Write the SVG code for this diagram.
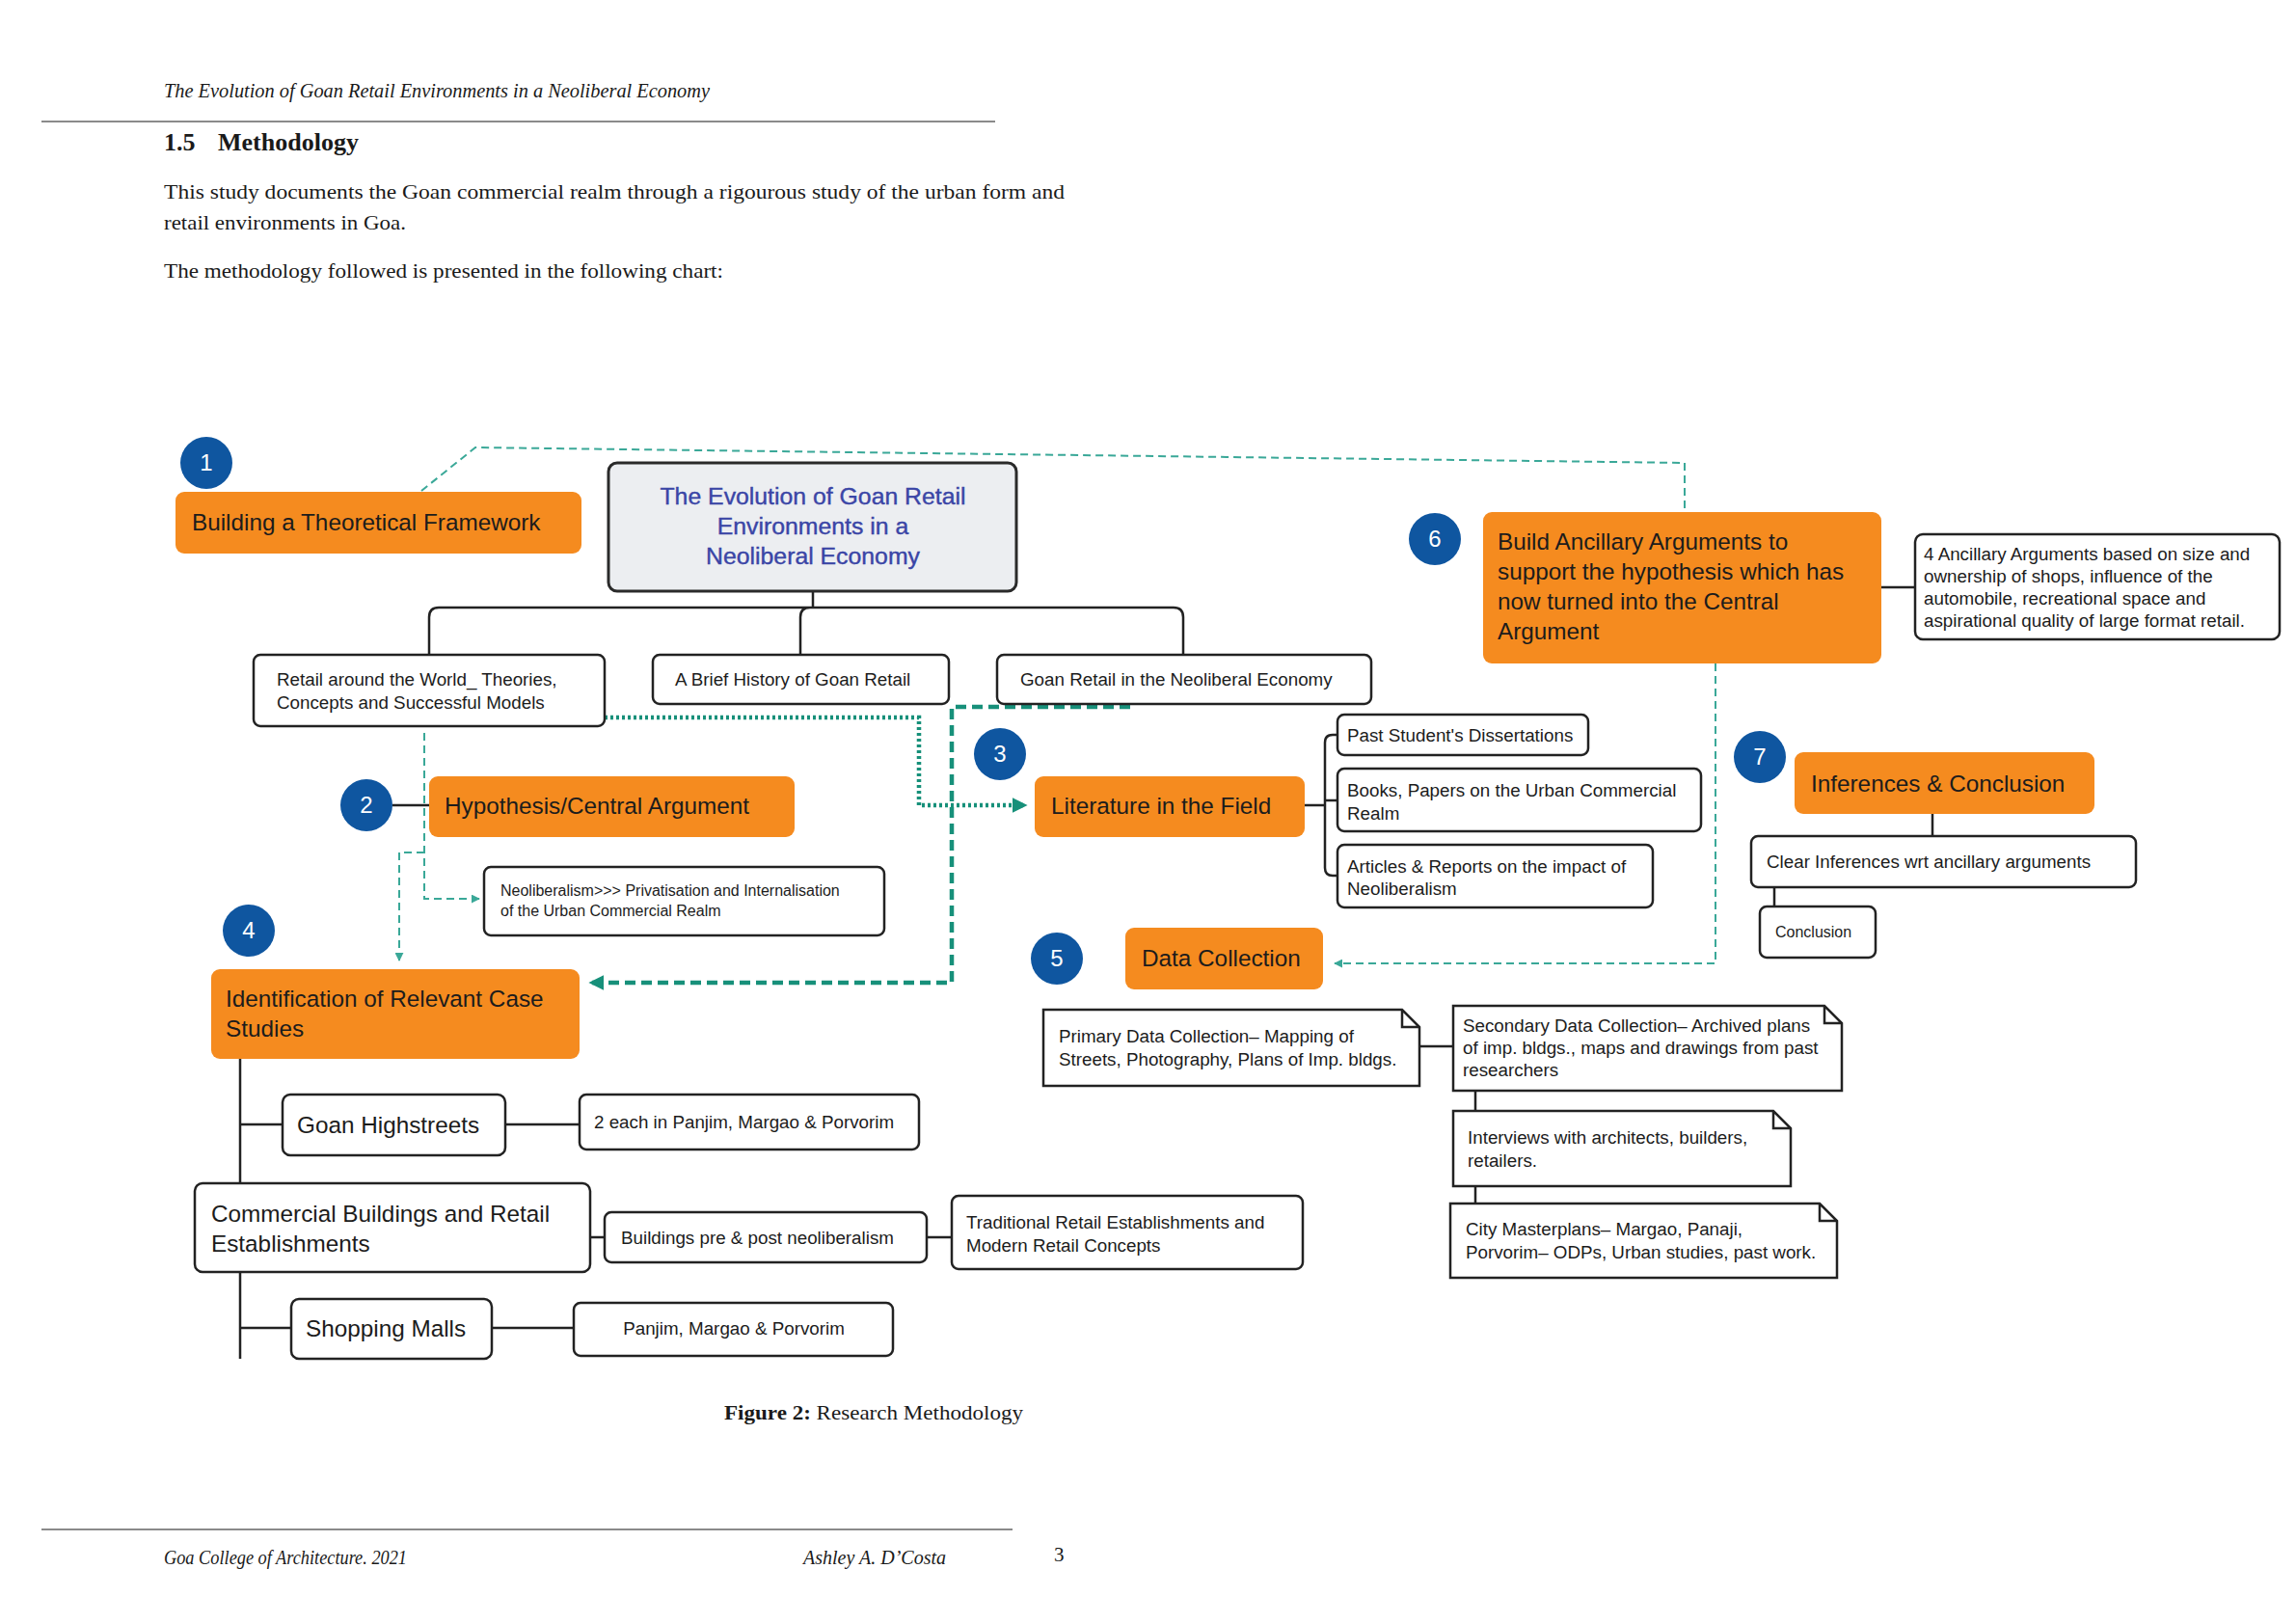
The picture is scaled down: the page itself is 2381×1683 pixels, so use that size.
<svg xmlns="http://www.w3.org/2000/svg" width="2381" height="1683" viewBox="0 0 2381 1683">
<style>
.serif{font-family:"Liberation Serif","Times New Roman",serif;fill:#1a1a1a}
.ob{fill:#F58B1F}
.wb{fill:#fff;stroke:#222;stroke-width:2.5}
.cb{fill:#ECEEF1;stroke:#2a2a2a;stroke-width:3}
.t23{font-family:"Liberation Sans",Arial,sans-serif;font-size:24.3px;fill:#1c1c1c}
.t17{font-family:"Liberation Sans",Arial,sans-serif;font-size:18.8px;fill:#1c1c1c}
.t14{font-family:"Liberation Sans",Arial,sans-serif;font-size:16px;fill:#1c1c1c}
.tc{font-family:"Liberation Sans",Arial,sans-serif;font-size:24.8px;fill:#3A45A6;text-anchor:middle;stroke:#3A45A6;stroke-width:0.4}
.circ{fill:#0F56A0}
.cn{font-family:"Liberation Sans",Arial,sans-serif;font-size:24px;fill:#fff;text-anchor:middle}
.conn{fill:none;stroke:#222;stroke-width:2.5}
.dthin{fill:none;stroke:#3AA898;stroke-width:2;stroke-dasharray:8 5}
.dthick{fill:none;stroke:#17907A;stroke-width:4.5;stroke-dasharray:11 6}
.dot{fill:none;stroke:#17907A;stroke-width:4.5;stroke-dasharray:3 3}
</style>
<defs>
<marker id="ahs" viewBox="0 0 10 10" refX="9" refY="5" markerWidth="9" markerHeight="9" orient="auto" markerUnits="userSpaceOnUse">
<path d="M0,0 L10,5 L0,10 z" fill="#3AA898"/>
</marker>
<marker id="ahb" viewBox="0 0 10 10" refX="9" refY="5" markerWidth="16" markerHeight="16" orient="auto" markerUnits="userSpaceOnUse">
<path d="M0,0 L10,5 L0,10 z" fill="#17907A"/>
</marker>
</defs>
<rect width="2381" height="1683" fill="#fff"/>

<!-- page text -->
<g id="page">
<text class="serif" x="170" y="101" font-size="22" font-style="italic" textLength="566" lengthAdjust="spacingAndGlyphs">The Evolution of Goan Retail Environments in a Neoliberal Economy</text>
<line x1="43" y1="126" x2="1032" y2="126" stroke="#8a8a8a" stroke-width="2"/>
<text class="serif" x="170" y="156" font-size="26" font-weight="bold">1.5<tspan x="226">Methodology</tspan></text>
<text class="serif" x="170" y="206" font-size="22" textLength="934" lengthAdjust="spacingAndGlyphs">This study documents the Goan commercial realm through a rigourous study of the urban form and</text>
<text class="serif" x="170" y="238" font-size="22" textLength="251" lengthAdjust="spacingAndGlyphs">retail environments in Goa.</text>
<text class="serif" x="170" y="288" font-size="22" textLength="580" lengthAdjust="spacingAndGlyphs">The methodology followed is presented in the following chart:</text>
<text class="serif" x="751" y="1472" font-size="22" textLength="310" lengthAdjust="spacingAndGlyphs"><tspan font-weight="bold">Figure 2:</tspan> Research Methodology</text>
<line x1="43" y1="1586" x2="1050" y2="1586" stroke="#8a8a8a" stroke-width="2"/>
<text class="serif" x="170" y="1622" font-size="20" font-style="italic" textLength="252" lengthAdjust="spacingAndGlyphs">Goa College of Architecture. 2021</text>
<text class="serif" x="833" y="1622" font-size="20" font-style="italic" textLength="148" lengthAdjust="spacingAndGlyphs">Ashley A. D’Costa</text>
<text class="serif" x="1093" y="1619" font-size="21">3</text>
</g>

<!-- connectors -->
<g id="connectors">
<path class="conn" d="M843,613 V630 M445,679 V640 Q445,630 455,630 H1217 Q1227,630 1227,640 V679 M830,679 V640 Q830,630 840,630"/>
<line class="conn" x1="407" y1="835" x2="445" y2="835"/>
<path class="conn" d="M1353,835 H1374 M1387,762 H1382 Q1374,762 1374,770 V900 Q1374,908 1382,908 H1387 M1374,830 H1387"/>
<path class="conn" d="M249,1098 V1409 M249,1166 H293 M524,1166 H601 M612,1283 H627 M961,1283 H987 M249,1377 H302 M510,1377 H595"/>
<path class="conn" d="M1472,1085 H1507 M1530,1131 V1152 M1530,1230 V1248"/>
<path class="conn" d="M1951,609 H1986 M2004,844 V867 M1840,920 V940"/>
<path class="dthin" d="M437,509 L493,464 L1747,480 V531"/>
<path class="dthin" d="M1779,688 V999 H1384" marker-end="url(#ahs)"/>
<path class="dthin" d="M440,760 V932 H497" marker-end="url(#ahs)"/>
<path class="dthin" d="M440,884 H414 V996" marker-end="url(#ahs)"/>
<path class="dot" d="M627,744 H953 V835 H1064" marker-end="url(#ahb)"/>
<path class="dthick" d="M1172,733 H987 V1019 H612" marker-end="url(#ahb)"/>
</g>

<!-- nodes -->
<g id="n1">
<circle class="circ" cx="214" cy="480" r="27"/><text class="cn" x="214" y="488">1</text>
<rect class="ob" x="182" y="510" width="421" height="64" rx="9"/>
<text class="t23" x="199" y="550">Building a Theoretical Framework</text>
</g>
<g id="central">
<rect class="cb" x="631" y="480" width="423" height="133" rx="9"/>
<text class="tc" x="843" y="523">The Evolution of Goan Retail</text>
<text class="tc" x="843" y="554">Environments in a</text>
<text class="tc" x="843" y="585">Neoliberal Economy</text>
</g>
<g id="retail-world">
<rect class="wb" x="263" y="679" width="364" height="74" rx="7"/>
<text class="t17" x="287" y="711">Retail around the World_ Theories,</text>
<text class="t17" x="287" y="735">Concepts and Successful Models</text>
</g>
<g id="brief-history">
<rect class="wb" x="677" y="679" width="307" height="51" rx="7"/>
<text class="t17" x="700" y="711">A Brief History of Goan Retail</text>
</g>
<g id="goan-neolib">
<rect class="wb" x="1034" y="679" width="388" height="51" rx="7"/>
<text class="t17" x="1058" y="711">Goan Retail in the Neoliberal Economy</text>
</g>
<g id="n2">
<circle class="circ" cx="380" cy="835" r="27"/><text class="cn" x="380" y="843">2</text>
<rect class="ob" x="445" y="805" width="379" height="63" rx="9"/>
<text class="t23" x="461" y="844">Hypothesis/Central Argument</text>
</g>
<g id="neolib">
<rect class="wb" x="502" y="899" width="415" height="71" rx="7"/>
<text class="t14" x="519" y="929">Neoliberalism&gt;&gt;&gt; Privatisation and Internalisation</text>
<text class="t14" x="519" y="950">of the Urban Commercial Realm</text>
</g>
<g id="n3">
<circle class="circ" cx="1037" cy="782" r="27"/><text class="cn" x="1037" y="790">3</text>
<rect class="ob" x="1073" y="805" width="280" height="63" rx="9"/>
<text class="t23" x="1090" y="844">Literature in the Field</text>
</g>
<g id="dissertations">
<rect class="wb" x="1387" y="741" width="260" height="42" rx="7"/>
<text class="t17" x="1397" y="769">Past Student's Dissertations</text>
</g>
<g id="books">
<rect class="wb" x="1387" y="797" width="377" height="65" rx="7"/>
<text class="t17" x="1397" y="826">Books, Papers on the Urban Commercial</text>
<text class="t17" x="1397" y="850">Realm</text>
</g>
<g id="articles">
<rect class="wb" x="1387" y="876" width="327" height="65" rx="7"/>
<text class="t17" x="1397" y="905">Articles &amp; Reports on the impact of</text>
<text class="t17" x="1397" y="928">Neoliberalism</text>
</g>
<g id="n4">
<circle class="circ" cx="258" cy="965" r="27"/><text class="cn" x="258" y="973">4</text>
<rect class="ob" x="219" y="1005" width="382" height="93" rx="9"/>
<text class="t23" x="234" y="1044">Identification of Relevant Case</text>
<text class="t23" x="234" y="1075">Studies</text>
</g>
<g id="highstreets">
<rect class="wb" x="293" y="1135" width="231" height="63" rx="8"/>
<text class="t23" x="308" y="1175">Goan Highstreets</text>
</g>
<g id="two-each">
<rect class="wb" x="601" y="1135" width="352" height="57" rx="7"/>
<text class="t17" x="616" y="1170">2 each in Panjim, Margao &amp; Porvorim</text>
</g>
<g id="commercial">
<rect class="wb" x="202" y="1227" width="410" height="92" rx="8"/>
<text class="t23" x="219" y="1267">Commercial Buildings and Retail</text>
<text class="t23" x="219" y="1298">Establishments</text>
</g>
<g id="pre-post">
<rect class="wb" x="627" y="1257" width="334" height="52" rx="7"/>
<text class="t17" x="644" y="1290">Buildings pre &amp; post neoliberalism</text>
</g>
<g id="traditional">
<rect class="wb" x="987" y="1240" width="364" height="76" rx="7"/>
<text class="t17" x="1002" y="1274">Traditional Retail Establishments and</text>
<text class="t17" x="1002" y="1298">Modern Retail Concepts</text>
</g>
<g id="malls">
<rect class="wb" x="302" y="1347" width="208" height="62" rx="8"/>
<text class="t23" x="317" y="1386">Shopping Malls</text>
</g>
<g id="panjim">
<rect class="wb" x="595" y="1351" width="331" height="55" rx="7"/>
<text class="t17" x="761" y="1384" text-anchor="middle">Panjim, Margao &amp; Porvorim</text>
</g>
<g id="n5">
<circle class="circ" cx="1096" cy="994" r="27"/><text class="cn" x="1096" y="1002">5</text>
<rect class="ob" x="1167" y="962" width="205" height="64" rx="9"/>
<text class="t23" x="1184" y="1002">Data Collection</text>
</g>
<g id="primary">
<path class="wb" d="M1082,1047 H1454 L1472,1065 V1126 H1082 Z M1454,1047 V1065 H1472"/>
<text class="t17" x="1098" y="1081">Primary Data Collection– Mapping of</text>
<text class="t17" x="1098" y="1105">Streets, Photography, Plans of Imp. bldgs.</text>
</g>
<g id="secondary">
<path class="wb" d="M1507,1043 H1892 L1910,1061 V1131 H1507 Z M1892,1043 V1061 H1910"/>
<text class="t17" x="1517" y="1070">Secondary Data Collection– Archived plans</text>
<text class="t17" x="1517" y="1093">of imp. bldgs., maps and drawings from past</text>
<text class="t17" x="1517" y="1116">researchers</text>
</g>
<g id="interviews">
<path class="wb" d="M1507,1152 H1839 L1857,1170 V1230 H1507 Z M1839,1152 V1170 H1857"/>
<text class="t17" x="1522" y="1186">Interviews with architects, builders,</text>
<text class="t17" x="1522" y="1210">retailers.</text>
</g>
<g id="masterplans">
<path class="wb" d="M1504,1248 H1887 L1905,1266 V1325 H1504 Z M1887,1248 V1266 H1905"/>
<text class="t17" x="1520" y="1281">City Masterplans– Margao, Panaji,</text>
<text class="t17" x="1520" y="1305">Porvorim– ODPs, Urban studies, past work.</text>
</g>
<g id="n6">
<circle class="circ" cx="1488" cy="559" r="27"/><text class="cn" x="1488" y="567">6</text>
<rect class="ob" x="1538" y="531" width="413" height="157" rx="9"/>
<text class="t23" x="1553" y="570">Build Ancillary Arguments to</text>
<text class="t23" x="1553" y="601">support the hypothesis which has</text>
<text class="t23" x="1553" y="632">now turned into the Central</text>
<text class="t23" x="1553" y="663">Argument</text>
</g>
<g id="ancillary">
<rect class="wb" x="1986" y="554" width="378" height="109" rx="8"/>
<text class="t17" x="1995" y="581">4 Ancillary Arguments based on size and</text>
<text class="t17" x="1995" y="604">ownership of shops, influence of the</text>
<text class="t17" x="1995" y="627">automobile, recreational space and</text>
<text class="t17" x="1995" y="650">aspirational quality of large format retail.</text>
</g>
<g id="n7">
<circle class="circ" cx="1825" cy="785" r="27"/><text class="cn" x="1825" y="793">7</text>
<rect class="ob" x="1861" y="780" width="311" height="64" rx="9"/>
<text class="t23" x="1878" y="821">Inferences &amp; Conclusion</text>
</g>
<g id="clear">
<rect class="wb" x="1816" y="867" width="399" height="53" rx="7"/>
<text class="t17" x="1832" y="900">Clear Inferences wrt ancillary arguments</text>
</g>
<g id="conclusion">
<rect class="wb" x="1825" y="940" width="120" height="53" rx="7"/>
<text class="t14" x="1841" y="972">Conclusion</text>
</g>
</svg>
